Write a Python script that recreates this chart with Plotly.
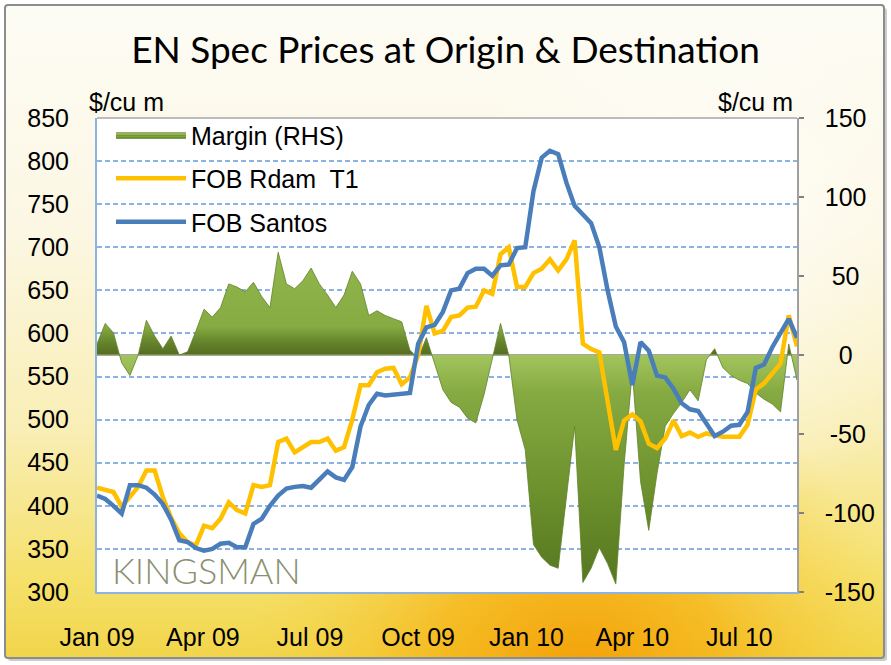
import base64
import pandas as pd
import plotly.graph_objects as go

# ---------------- data (weekly) ----------------
start_date = "2009-01-01"
rdam = [421, 419, 416, 399, 410, 422, 441, 441, 410, 386, 368, 358, 354, 377, 374, 385,
        404, 395, 391, 424, 422, 424, 474, 478, 462, 468, 474, 474, 478, 464, 468, 500,
        540, 540, 555, 559, 560, 541, 549, 575, 632, 600, 603, 619, 621, 630, 631, 650,
        646, 692, 700, 654, 654, 670, 675, 686, 673, 686, 708, 588, 582, 578, 518, 465,
        499, 506, 498, 472, 467, 478, 499, 481, 485, 480, 484, 482, 480, 480, 480, 494,
        535, 542, 553, 565, 621, 585]
santos = [412, 408, 400, 391, 424, 424, 421, 413, 402, 384, 360, 358, 351, 348, 350, 356,
          357, 352, 352, 379, 385, 400, 412, 420, 422, 423, 421, 430, 440, 433, 430, 445,
          492, 517, 530, 528, 529, 531, 531, 588, 607, 610, 625, 650, 652, 670, 675, 675,
          667, 679, 680, 699, 700, 765, 804, 812, 808, 775, 748, 738, 728, 700, 650, 608,
          590, 540, 590, 580, 551, 549, 536, 519, 512, 510, 495, 481, 486, 493, 494, 509,
          560, 564, 584, 600, 617, 595]
margin = [7, 20, 14, -5, -13, 0, 22, 12, 4, 12, 0, 2, 15, 29, 24, 30,
          45, 43, 40, 46, 37, 30, 65, 45, 42, 47, 55, 45, 38, 30, 38, 53,
          45, 25, 28, 25, 23, 21, 3, -2, 11, -5, -22, -30, -33, -40, -43, -25,
          -3, 20, 0, -41, -60, -120, -128, -133, -135, -89, -45, -144, -135, -122, -132, -145,
          -70, -10, -80, -111, -75, -45, -37, -30, -22, -29, -3, 4, -8, -13, -16, -18,
          -24, -28, -31, -36, 7, -16]
x_tick_vals = ["2009-01-01", "2009-04-01", "2009-07-01", "2009-10-01",
               "2010-01-01", "2010-04-01", "2010-07-01"]
x_tick_text = ["Jan 09", "Apr 09", "Jul 09", "Oct 09", "Jan 10", "Apr 10", "Jul 10"]
left_ticks = [300, 350, 400, 450, 500, 550, 600, 650, 700, 750, 800, 850]
right_ticks = [-150, -100, -50, 0, 50, 100, 150]
# right-hand labels are centred in the reference; pad the short ones with narrow spaces
right_tick_text = ["-150", "-100", "\u2009-50", "\u20070", "\u200850", "100", "150"]

dates = pd.date_range(start_date, periods=len(rdam), freq="7D")

# ---------------- background artwork ----------------
W, H = 891, 665
ML, MR, MT, MB = 97, 94, 118, 73
PW, PH = W - ML - MR, H - MT - MB
svg = f"""<svg xmlns='http://www.w3.org/2000/svg' width='{W}' height='{H}' viewBox='0 0 {W} {H}' preserveAspectRatio='none'>
<defs>
<linearGradient id='v' x1='0' y1='0' x2='0' y2='1'>
<stop offset='0' stop-color='#fdfcf5'/>
<stop offset='0.35' stop-color='#fcf7e3'/>
<stop offset='0.65' stop-color='#f9eeb5'/>
<stop offset='0.88' stop-color='#f5e06a'/>
<stop offset='1' stop-color='#f1d54a'/>
</linearGradient>
<radialGradient id='o' gradientUnits='userSpaceOnUse' cx='580' cy='690' r='330'>
<stop offset='0' stop-color='#f39a00' stop-opacity='0.95'/>
<stop offset='0.45' stop-color='#f6b010' stop-opacity='0.7'/>
<stop offset='1' stop-color='#f8d040' stop-opacity='0'/>
</radialGradient>
<radialGradient id='w' gradientUnits='userSpaceOnUse' cx='700' cy='260' r='260'>
<stop offset='0' stop-color='#ffffff' stop-opacity='0.7'/>
<stop offset='1' stop-color='#ffffff' stop-opacity='0'/>
</radialGradient>
</defs>
<rect x='0' y='0' width='{W}' height='{H}' fill='#ffffff'/>
<rect x='8' y='8' width='{W-12}' height='{H-12}' rx='3' fill='#9a9a9a' opacity='0.5'/>
<rect x='5' y='5' width='{W-12}' height='{H-12}' rx='3' fill='url(#v)'/>
<rect x='5' y='5' width='{W-12}' height='{H-12}' rx='3' fill='url(#o)'/>
<rect x='5' y='5' width='{W-12}' height='{H-12}' rx='3' fill='url(#w)'/>
<rect x='5' y='5' width='{W-12}' height='{H-12}' rx='3' fill='none' stroke='#8c8c8c' stroke-width='2'/>
</svg>"""
svg_uri = "data:image/svg+xml;base64," + base64.b64encode(svg.encode()).decode()

# ---------------- figure ----------------
fig = go.Figure()

fig.add_trace(go.Scatter(
    x=dates, y=margin, name="Margin (RHS)", mode="lines",
    fill="tozeroy", line=dict(color="#61822a", width=0.8),
    fillgradient=dict(
        type="vertical", start=-150, stop=150,
        colorscale=[[0.0, "#55741f"], [0.2, "#6a8f2c"], [0.42, "#86aa42"],
                    [0.5, "#a2c45c"], [0.502, "#566e22"], [0.525, "#63822a"],
                    [0.56, "#86ab42"], [0.75, "#94b94f"], [1.0, "#aecd6c"]]),
    yaxis="y", legendgroup="m",
))
fig.add_trace(go.Scatter(
    x=dates, y=rdam, name="FOB Rdam  T1", mode="lines",
    line=dict(color="#ffc000", width=4.5), yaxis="y2", legendgroup="r",
))
fig.add_trace(go.Scatter(
    x=dates, y=santos, name="FOB Santos", mode="lines",
    line=dict(color="#4a7ebb", width=4.5), yaxis="y2", legendgroup="s",
))

tick_font = dict(family="Liberation Sans, Arial, sans-serif", size=25, color="#000000")

fig.update_layout(
    width=W, height=H,
    margin=dict(l=ML, r=MR, t=MT, b=MB, pad=0),
    paper_bgcolor="#ffffff", plot_bgcolor="#ffffff",
    title=dict(text="EN Spec Prices at Origin &amp; Destination",
               x=0.5, xanchor="center", xref="container",
               y=1 - 50 / H, yanchor="middle", yref="container",
               font=dict(family="Lato, Open Sans, sans-serif", size=37, color="#000000")),
    showlegend=True,
    legend=dict(x=0.02, y=1.0 + 6 / PH, xanchor="left", yanchor="top",
                bgcolor="rgba(0,0,0,0)", borderwidth=0,
                traceorder="grouped", tracegroupgap=8,
                font=dict(family="Liberation Sans, Arial, sans-serif", size=25, color="#000000"),
                itemwidth=70),
    xaxis=dict(type="date", range=[dates[0], dates[-1]],
               tickvals=x_tick_vals, ticktext=x_tick_text,
               showgrid=False, zeroline=False, ticks="",
               showline=True, linecolor="#8db3e2", linewidth=2,
               tickfont=tick_font, ticklabelstandoff=22, automargin=False),
    yaxis=dict(range=[-150, 150], tickvals=right_ticks, ticktext=right_tick_text, side="right",
               showgrid=False, zeroline=True, zerolinecolor="#a6a6a6", zerolinewidth=1.5,
               showline=True, linecolor="#a0a0a0", linewidth=1.5,
               ticks="outside", ticklen=5, tickcolor="#808080", tickwidth=1.5,
               tickfont=tick_font, ticklabelstandoff=16, automargin=False),
    yaxis2=dict(range=[300, 850], tickvals=left_ticks, side="left", overlaying="y",
                showgrid=True, gridcolor="#8db3e2", gridwidth=1.5, griddash="5px,3px",
                zeroline=False, showline=True, linecolor="#8db3e2", linewidth=2,
                ticks="", tickfont=tick_font, ticklabelstandoff=21, automargin=False),
    images=[dict(source=svg_uri, xref="paper", yref="paper",
                 x=-ML / PW, y=(PH + MT) / PH, sizex=W / PW, sizey=H / PH,
                 xanchor="left", yanchor="top", sizing="stretch", layer="below")],
    shapes=[
        dict(type="rect", xref="paper", yref="paper", x0=0, x1=1, y0=0, y1=1,
             fillcolor="#ffffff", line=dict(width=0), layer="below"),
        dict(type="line", xref="paper", yref="paper", x0=0, x1=1, y0=1, y1=1,
             line=dict(color="#a6a6a6", width=1.5), layer="above"),
    ],
    annotations=[
        dict(text="$/cu m", xref="paper", yref="paper", x=-10 / PW, y=1 + 16 / PH,
             xanchor="left", yanchor="middle", showarrow=False,
             font=dict(family="Liberation Sans, Arial, sans-serif", size=25, color="#000000")),
        dict(text="$/cu m", xref="paper", yref="paper", x=1 - 2 / PW, y=1 + 16 / PH,
             xanchor="right", yanchor="middle", showarrow=False,
             font=dict(family="Liberation Sans, Arial, sans-serif", size=25, color="#000000")),
        dict(text="KINGSMAN", xref="paper", yref="paper", x=13 / PW, y=22 / PH,
             xanchor="left", yanchor="middle", showarrow=False,
             font=dict(family="Lato, sans-serif", size=36, color="#8b9070", weight=300)),
    ],
)

fig.write_html("out.html", post_script="document.body.style.margin='0';",
               config={"displayModeBar": False})
